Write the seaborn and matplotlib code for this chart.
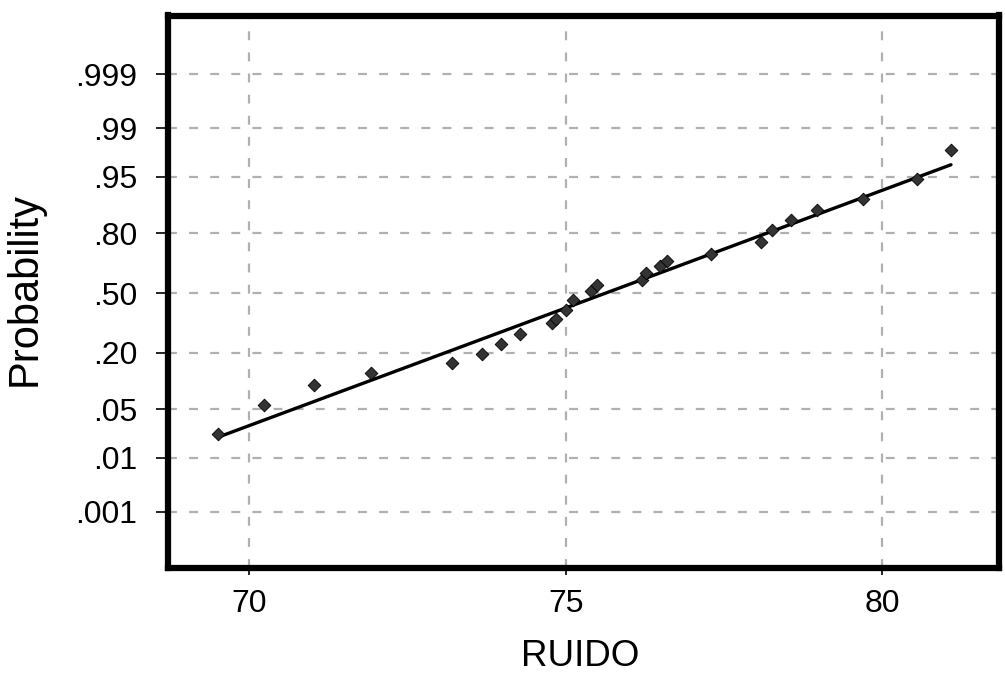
import numpy as np
import pandas as pd
import seaborn as sns
import matplotlib
matplotlib.use("Agg")
import matplotlib.pyplot as plt
from statistics import NormalDist

# Data
ruido = [69.51, 70.23, 71.02, 71.92, 73.20, 73.68, 73.98, 74.28, 74.78, 74.85,
         75.00, 75.11, 75.40, 75.49, 76.20, 76.27, 76.49, 76.60, 77.29, 78.08,
         78.26, 78.56, 78.98, 79.70, 80.56, 81.09]
probability = [0.023, 0.057, 0.096, 0.129, 0.160, 0.196, 0.236, 0.281, 0.334, 0.357,
               0.404, 0.462, 0.513, 0.546, 0.571, 0.612, 0.649, 0.677, 0.711, 0.763,
               0.814, 0.849, 0.879, 0.909, 0.946, 0.978]
prob_ticks = [0.001, 0.01, 0.05, 0.20, 0.50, 0.80, 0.95, 0.99, 0.999]
prob_labels = [".001", ".01", ".05", ".20", ".50", ".80", ".95", ".99", ".999"]
x_ticks = [70, 75, 80]

nd = NormalDist()
df = pd.DataFrame({"RUIDO": ruido, "z": [nd.inv_cdf(p) for p in probability]})

mu = float(np.mean(ruido))
sd = float(np.std(ruido, ddof=1))
fit = pd.DataFrame({"RUIDO": [min(ruido), max(ruido)]})
fit["z"] = (fit["RUIDO"] - mu) / sd

sns.set_style("white")
plt.rcParams['font.family'] = ['Liberation Sans', 'DejaVu Sans']
plt.rcParams['text.color'] = 'black'
plt.rcParams['xtick.color'] = 'black'
plt.rcParams['ytick.color'] = 'black'
plt.rcParams['axes.labelcolor'] = 'black'

fig = plt.figure(figsize=(10.05, 6.76), dpi=100)
ax = fig.add_axes([168/1005, 1 - 568/676, (999-168)/1005, (568-15.5)/676])

sns.lineplot(data=fit, x="RUIDO", y="z", ax=ax, color="black", linewidth=2.4, zorder=3)
sns.scatterplot(data=df, x="RUIDO", y="z", ax=ax, marker="D", s=42,
                color="#333333", edgecolor="black", linewidth=0.6, zorder=4)

ax.set_xlim(68.715, 81.849)
ax.set_ylim(-3.884, 3.92)
ax.set_xticks(x_ticks)
ax.set_xticklabels([str(t) for t in x_ticks])
ax.set_yticks([nd.inv_cdf(p) for p in prob_ticks])
ax.set_yticklabels(prob_labels)

ax.grid(True, color="#b0b0b0", linestyle=(0, (4, 5.5)), linewidth=1.6)
ax.set_axisbelow(True)

for sp in ax.spines.values():
    sp.set_visible(True)
    sp.set_color("black")
    sp.set_linewidth(4.5)

ax.tick_params(axis="x", direction="out", length=5, width=1.2, color="black",
               labelsize=23, pad=10, bottom=True, labelcolor="black")
ax.tick_params(axis="y", direction="out", length=9, width=1.2, color="black",
               labelsize=23, pad=13, left=True, labelcolor="black")

ax.set_xlabel("RUIDO", fontsize=26.5, color="black", va="center")
ax.set_ylabel("Probability", fontsize=30, color="black", va="center")
ax.xaxis.set_label_coords((580-168)/831, (568-656)/552.5)
ax.yaxis.set_label_coords((25-168)/831, 0.505)

fig.savefig("out.png", dpi=100, facecolor="white")
